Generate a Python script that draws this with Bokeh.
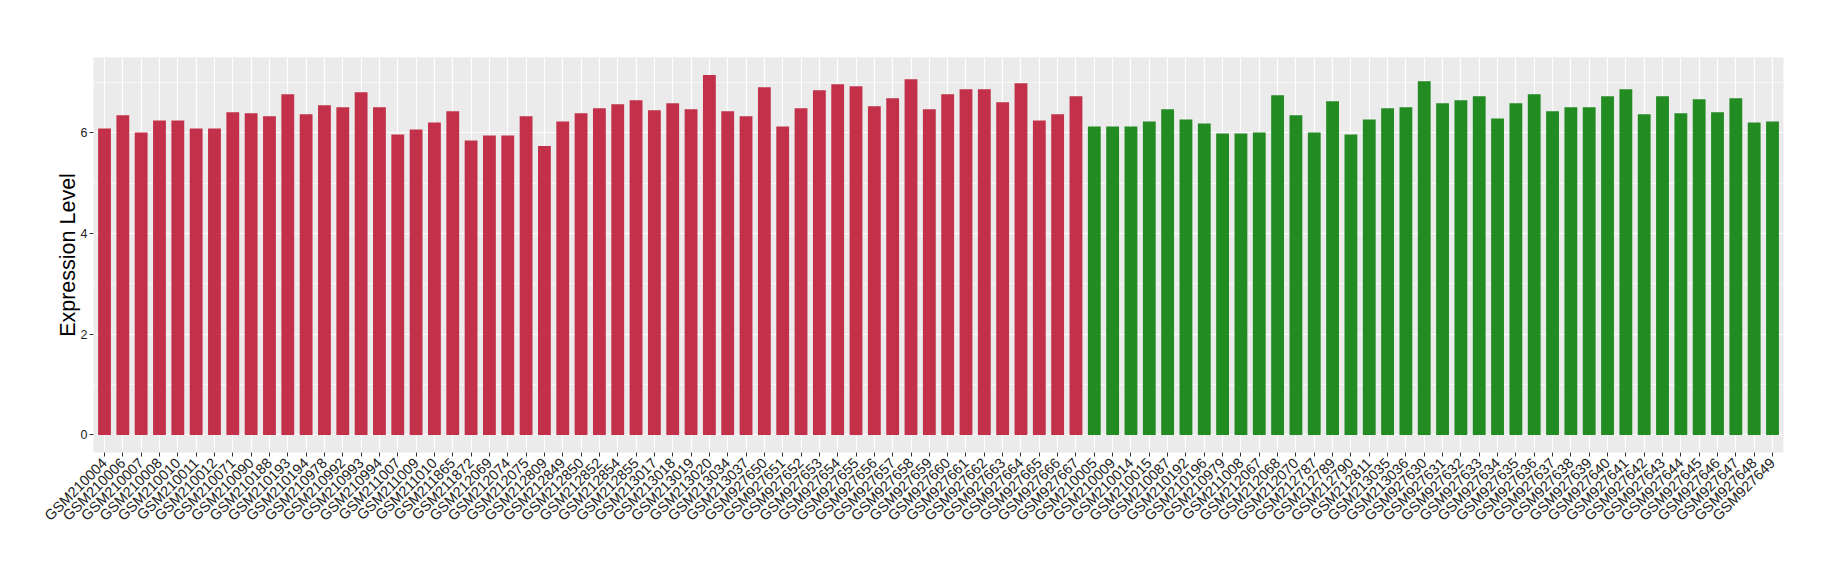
import math
from bokeh.plotting import figure
from bokeh.models import ColumnDataSource, FactorRange, Range1d, FixedTicker
from bokeh.embed import file_html
from bokeh.resources import INLINE

group_a_samples = [
    "GSM210004", "GSM210006", "GSM210007", "GSM210008", "GSM210010", "GSM210011",
    "GSM210012", "GSM210071", "GSM210090", "GSM210188", "GSM210193", "GSM210194",
    "GSM210978", "GSM210992", "GSM210993", "GSM210994", "GSM211007", "GSM211009",
    "GSM211010", "GSM211865", "GSM211872", "GSM212069", "GSM212074", "GSM212075",
    "GSM212809", "GSM212849", "GSM212850", "GSM212852", "GSM212854", "GSM212855",
    "GSM213017", "GSM213018", "GSM213019", "GSM213020", "GSM213034", "GSM213037",
    "GSM927650", "GSM927651", "GSM927652", "GSM927653", "GSM927654", "GSM927655",
    "GSM927656", "GSM927657", "GSM927658", "GSM927659", "GSM927660", "GSM927661",
    "GSM927662", "GSM927663", "GSM927664", "GSM927665", "GSM927666", "GSM927667",
]
group_a_values = [
    6.09, 6.35, 6.01, 6.25, 6.25, 6.09, 6.09, 6.41, 6.39, 6.33, 6.77, 6.37,
    6.55, 6.51, 6.81, 6.51, 5.97, 6.07, 6.21, 6.43, 5.85, 5.95, 5.95, 6.33,
    5.74, 6.23, 6.39, 6.49, 6.57, 6.65, 6.45, 6.59, 6.47, 7.15, 6.43, 6.33,
    6.91, 6.13, 6.49, 6.85, 6.97, 6.93, 6.53, 6.69, 7.07, 6.47, 6.77, 6.87,
    6.87, 6.61, 6.99, 6.25, 6.37, 6.73,
]

group_b_samples = [
    "GSM210005", "GSM210009", "GSM210014", "GSM210015", "GSM210087", "GSM210192",
    "GSM210196", "GSM210979", "GSM211008", "GSM212067", "GSM212068", "GSM212070",
    "GSM212787", "GSM212789", "GSM212790", "GSM212811", "GSM213035", "GSM213036",
    "GSM927630", "GSM927631", "GSM927632", "GSM927633", "GSM927634", "GSM927635",
    "GSM927636", "GSM927637", "GSM927638", "GSM927639", "GSM927640", "GSM927641",
    "GSM927642", "GSM927643", "GSM927644", "GSM927645", "GSM927646", "GSM927647",
    "GSM927648", "GSM927649",
]
group_b_values = [
    6.13, 6.13, 6.13, 6.23, 6.47, 6.27, 6.19, 5.99, 5.99, 6.01, 6.75, 6.35,
    6.01, 6.63, 5.97, 6.27, 6.49, 6.51, 7.03, 6.59, 6.65, 6.73, 6.29, 6.59,
    6.77, 6.43, 6.51, 6.51, 6.73, 6.87, 6.37, 6.73, 6.39, 6.67, 6.41, 6.69,
    6.21, 6.23,
]

y_ticks = [0, 2, 4, 6]
y_minor = [1, 3, 5, 7]

RED = "#C3304A"
GREEN = "#228B22"

factors = group_a_samples + group_b_samples

p = figure(
    x_range=FactorRange(*factors, range_padding=0.1, range_padding_units="absolute"),
    y_range=Range1d(-0.35, 7.5),
    width=1824, height=564,
    output_backend="svg", toolbar_location=None,
    min_border_left=93, min_border_right=41, min_border_top=57, min_border_bottom=112,
    background_fill_color="#EBEBEB", border_fill_color="white",
)
p.outline_line_color = None

src_a = ColumnDataSource(dict(x=group_a_samples, top=group_a_values))
src_b = ColumnDataSource(dict(x=group_b_samples, top=group_b_values))
p.vbar(x="x", top="top", bottom=0, width=0.7, source=src_a, fill_color=RED, line_color=None)
p.vbar(x="x", top="top", bottom=0, width=0.7, source=src_b, fill_color=GREEN, line_color=None)

# grids
p.xgrid.grid_line_color = "white"
p.xgrid.grid_line_width = 1.2
p.ygrid.ticker = FixedTicker(ticks=y_ticks, minor_ticks=y_minor)
p.ygrid.grid_line_color = "white"
p.ygrid.grid_line_width = 1.2
p.ygrid.minor_grid_line_color = "white"
p.ygrid.minor_grid_line_width = 0.6

# y axis
p.yaxis.ticker = FixedTicker(ticks=y_ticks, minor_ticks=[])
p.yaxis.axis_label = "Expression Level"
p.yaxis.axis_label_text_font = "Liberation Sans"
p.yaxis.axis_label_text_font_size = "21.5px"
p.yaxis.axis_label_text_font_style = "normal"
p.yaxis.axis_label_text_color = "black"
p.yaxis.axis_label_standoff = -2

for ax in (p.xaxis, p.yaxis):
    ax.axis_line_color = None
    ax.major_tick_line_color = "#333333"
    ax.major_tick_out = 4
    ax.major_tick_in = 0
    ax.minor_tick_line_color = None
    ax.major_label_text_font = "Liberation Sans"
    ax.major_label_text_color = "#222222"
    ax.major_label_standoff = 2

p.yaxis.major_label_text_font_size = "12.5px"
p.xaxis.major_label_text_font_size = "14.5px"
p.xaxis.major_label_standoff = 4
p.xaxis.major_label_orientation = math.pi / 4

open("out.html", "w").write(file_html(p, INLINE))
